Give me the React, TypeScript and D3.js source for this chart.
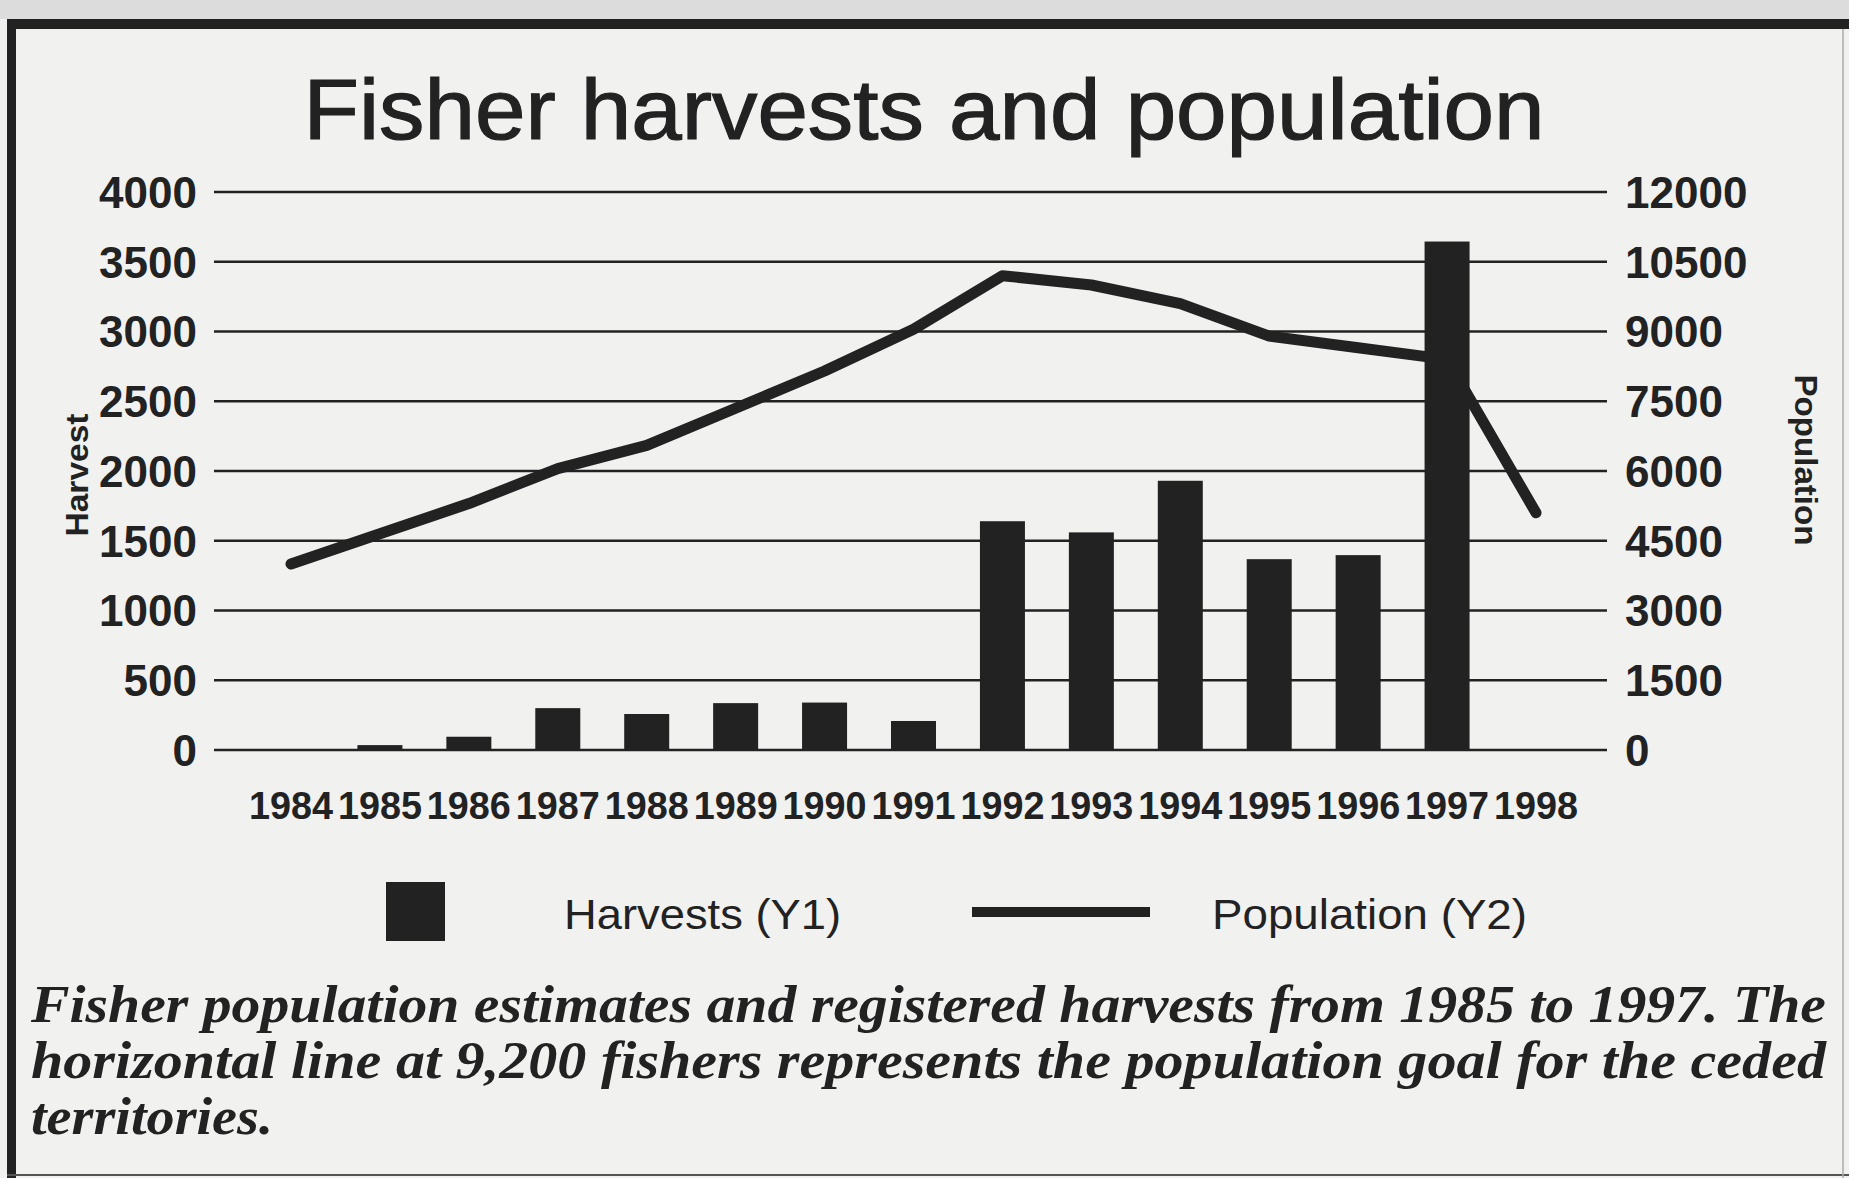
import React, { useEffect, useRef } from 'react';
import * as d3 from 'd3';

const years = [1984, 1985, 1986, 1987, 1988, 1989, 1990, 1991, 1992, 1993, 1994, 1995, 1996, 1997, 1998];
const harvests = [0, 35, 95, 300, 258, 336, 340, 208, 1640, 1560, 1930, 1368, 1397, 3645, 0];
const population = [4000, 4650, 5300, 6050, 6550, 7350, 8150, 9050, 10200, 10000, 9600, 8900, 8650, 8400, 5100];
const leftTicks = [0, 500, 1000, 1500, 2000, 2500, 3000, 3500, 4000];
const rightTicks = [0, 1500, 3000, 4500, 6000, 7500, 9000, 10500, 12000];
const captionLines = [
    'Fisher population estimates and registered harvests from 1985 to 1997. The',
    'horizontal line at 9,200 fishers represents the population goal for the ceded',
    'territories.',
];

const INK = '#222';
const SANS = '"Liberation Sans", Arial, Helvetica, sans-serif';
const SERIF = '"Liberation Serif", "Times New Roman", serif';

const App = () => {
    const ref = useRef();

    useEffect(() => {
        const svg = d3.select(ref.current);
        svg.selectAll('*').remove();

        // paper + frame
        svg.append('rect').attr('width', 1849).attr('height', 1178).attr('fill', '#f1f1f0');
        svg.append('rect').attr('width', 1849).attr('height', 19).attr('fill', '#dcdcdc');
        svg.append('rect').attr('x', 7).attr('y', 19).attr('width', 1842).attr('height', 10).attr('fill', INK);
        svg.append('rect').attr('x', 7).attr('y', 19).attr('width', 9).attr('height', 1159).attr('fill', INK);
        svg.append('line').attr('x1', 7).attr('x2', 1849).attr('y1', 1175).attr('y2', 1175)
            .attr('stroke', '#555').attr('stroke-width', 2);
        svg.append('line').attr('x1', 1843).attr('x2', 1843).attr('y1', 29).attr('y2', 1178)
            .attr('stroke', '#aaa').attr('stroke-width', 1.5);

        svg.append('text')
            .attr('x', 924).attr('y', 139)
            .attr('text-anchor', 'middle')
            .attr('font-family', SANS).attr('font-size', 86)
            .attr('fill', INK).attr('stroke', INK).attr('stroke-width', 1.2)
            .attr('textLength', 1241).attr('lengthAdjust', 'spacingAndGlyphs')
            .text('Fisher harvests and population');

        const x = d3.scalePoint().domain(years).range([291, 1536]);
        const yL = d3.scaleLinear().domain([0, 4000]).range([750, 192]);
        const yR = d3.scaleLinear().domain([0, 12000]).range([750, 192]);

        // gridlines
        svg.append('g').selectAll('line').data(leftTicks).enter().append('line')
            .attr('x1', 214).attr('x2', 1607)
            .attr('y1', d => yL(d)).attr('y2', d => yL(d))
            .attr('stroke', INK).attr('stroke-width', 2.5);

        svg.append('g').selectAll('text').data(leftTicks).enter().append('text')
            .attr('x', 197).attr('y', d => yL(d))
            .attr('dy', '0.36em').attr('text-anchor', 'end')
            .attr('font-family', SANS).attr('font-weight', 'bold').attr('font-size', 44)
            .attr('fill', INK)
            .text(d => d);

        svg.append('g').selectAll('text').data(rightTicks).enter().append('text')
            .attr('x', 1625).attr('y', d => yR(d))
            .attr('dy', '0.36em').attr('text-anchor', 'start')
            .attr('font-family', SANS).attr('font-weight', 'bold').attr('font-size', 44)
            .attr('fill', INK)
            .text(d => d);

        svg.append('g').selectAll('text').data(years).enter().append('text')
            .attr('x', d => x(d)).attr('y', 819)
            .attr('text-anchor', 'middle')
            .attr('font-family', SANS).attr('font-weight', 'bold').attr('font-size', 39)
            .attr('fill', INK)
            .attr('textLength', 84).attr('lengthAdjust', 'spacingAndGlyphs')
            .text(d => d);

        // population line (drawn under bars)
        const line = d3.line()
            .x((d, i) => x(years[i]))
            .y(d => yR(d));
        svg.append('path')
            .datum(population)
            .attr('fill', 'none')
            .attr('stroke', INK)
            .attr('stroke-width', 11)
            .attr('stroke-linejoin', 'round')
            .attr('stroke-linecap', 'round')
            .attr('d', line);

        const barW = 45;
        svg.append('g').selectAll('rect').data(years.map((yr, i) => [yr, harvests[i]]).filter(d => d[1] > 0))
            .enter().append('rect')
            .attr('x', d => x(d[0]) - barW / 2)
            .attr('y', d => yL(d[1]))
            .attr('width', barW)
            .attr('height', d => yL(0) - yL(d[1]))
            .attr('fill', INK);

        // axis titles
        svg.append('text')
            .attr('transform', 'translate(88,475) rotate(-90)')
            .attr('text-anchor', 'middle')
            .attr('font-family', SANS).attr('font-weight', 'bold').attr('font-size', 32)
            .attr('fill', INK)
            .attr('textLength', 123).attr('lengthAdjust', 'spacingAndGlyphs')
            .text('Harvest');
        svg.append('text')
            .attr('transform', 'translate(1795,460) rotate(90)')
            .attr('text-anchor', 'middle')
            .attr('font-family', SANS).attr('font-weight', 'bold').attr('font-size', 32)
            .attr('fill', INK)
            .attr('textLength', 171).attr('lengthAdjust', 'spacingAndGlyphs')
            .text('Population');

        // legend
        svg.append('rect').attr('x', 386).attr('y', 882).attr('width', 59).attr('height', 59).attr('fill', INK);
        svg.append('text')
            .attr('x', 564).attr('y', 929)
            .attr('font-family', SANS).attr('font-size', 42).attr('fill', INK)
            .attr('textLength', 277).attr('lengthAdjust', 'spacingAndGlyphs')
            .text('Harvests (Y1)');
        svg.append('line').attr('x1', 972).attr('x2', 1150).attr('y1', 912).attr('y2', 912)
            .attr('stroke', INK).attr('stroke-width', 10);
        svg.append('text')
            .attr('x', 1212).attr('y', 929)
            .attr('font-family', SANS).attr('font-size', 42).attr('fill', INK)
            .attr('textLength', 315).attr('lengthAdjust', 'spacingAndGlyphs')
            .text('Population (Y2)');

        // caption
        const capWidths = [1795, 1795, 242];
        svg.append('g').selectAll('text').data(captionLines).enter().append('text')
            .attr('x', 31).attr('y', (d, i) => 1022 + i * 56)
            .attr('font-family', SERIF).attr('font-weight', 'bold').attr('font-style', 'italic')
            .attr('font-size', 52).attr('fill', INK)
            .attr('textLength', (d, i) => capWidths[i]).attr('lengthAdjust', 'spacingAndGlyphs')
            .text(d => d);
    }, []);

    return (
        <svg ref={ref} width={1849} height={1178}
            style={{ position: 'absolute', left: 0, top: 0, display: 'block' }} />
    );
};

export default App;
